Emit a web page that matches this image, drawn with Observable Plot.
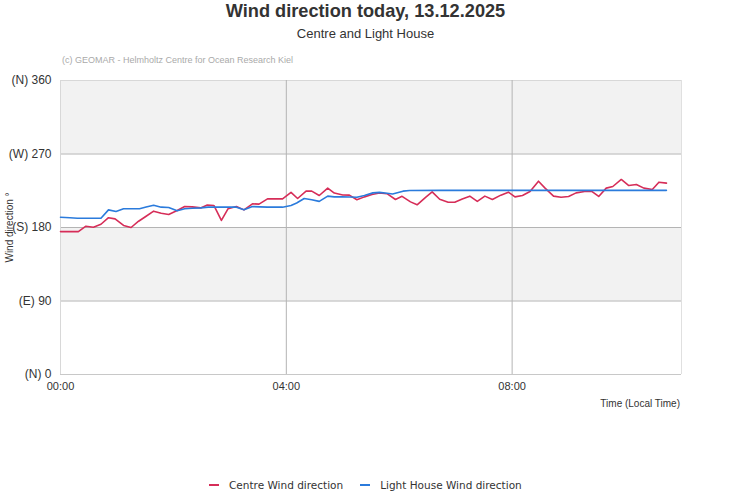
<!DOCTYPE html>
<html>
<head>
<meta charset="utf-8">
<script src="https://cdn.jsdelivr.net/npm/d3@7"></script>
<script src="https://cdn.jsdelivr.net/npm/@observablehq/plot@0.6"></script>
<style>
  html, body { margin: 0; padding: 0; background: #fff; }
  #wrap { position: relative; width: 731px; height: 500px; overflow: hidden; font-family: "Liberation Sans", Arial, sans-serif; }
  .abs { position: absolute; white-space: nowrap; }
  #title { left: 0; width: 731px; top: 1px; text-align: center; font-size: 18.2px; font-weight: bold; color: #333; }
  #subtitle { left: 0; width: 731px; top: 26px; text-align: center; font-size: 13px; color: #333; }
  #credit { left: 62px; top: 55px; font-size: 9px; color: #aaa; z-index: 2; }
  #xlabel { right: 51px; top: 398px; font-size: 10px; color: #333; z-index: 2; }
  #chart { position: absolute; left: 0; top: 50px; }
  #legend { left: 209px; top: 479px; font-family: "DejaVu Sans", sans-serif; font-size: 10.5px; color: #333; }
  .item { display: inline-block; margin-right: 17px; }
  .sw { display: inline-block; width: 10px; height: 2px; vertical-align: middle; margin-right: 10px; position: relative; top: -1px; }
</style>
</head>
<body>
<div id="wrap">
  <div id="title" class="abs">Wind direction today, 13.12.2025</div>
  <div id="subtitle" class="abs">Centre and Light House</div>
  <div id="credit" class="abs">(c) GEOMAR - Helmholtz Centre for Ocean Research Kiel</div>
  <div id="chart"></div>
  <div id="xlabel" class="abs">Time (Local Time)</div>
  <div id="legend" class="abs"></div>
</div>
<script>
// ---- data ----
const seriesNames = ["Centre Wind direction", "Light House Wind direction"];
const seriesColors = ["#d62d58", "#2b7bdc"];

const centreTimes = ["00:00","00:10","00:19","00:27","00:35","00:43","00:51","00:58","01:07","01:15","01:23","01:31","01:39","01:47","01:55","02:04","02:12","02:20","02:29","02:36","02:43","02:51","02:58","03:07","03:15","03:24","03:31","03:40","03:48","03:56","04:05","04:12","04:21","04:27","04:35","04:44","04:51","05:00","05:07","05:15","05:23","05:31","05:39","05:47","05:56","06:03","06:12","06:19","06:28","06:35","06:43","06:52","06:59","07:07","07:15","07:23","07:31","07:39","07:48","07:56","08:03","08:11","08:19","08:28","08:35","08:44","08:52","09:00","09:08","09:17","09:25","09:32","09:40","09:47","09:56","10:04","10:12","10:20","10:29","10:36","10:44"];
const centreValues = [175,175,175,181.6,180.4,184,192,190.6,182.5,180,187.7,193.8,200,197.5,196,200.8,205.7,205.3,204,207.5,207,188.6,202.9,205.7,201.6,209,208.6,215,215,215,223,215.5,224.5,224.5,219.2,228.2,222.2,219.8,219.6,214,217.5,220.5,222.2,221.4,214.3,218.2,211.4,207.8,217,223.6,214.6,211,211,215,218.4,212,218.4,214.3,219.6,223.3,217.5,219.2,224,236.7,228.2,218.4,217,218,222.4,224,224,218,228.2,230.2,238.8,231.4,232.7,228.2,226.5,235.5,234.3];

const lightTimes = ["00:00","00:10","00:18","00:27","00:35","00:43","00:51","00:59","01:07","01:15","01:24","01:31","01:39","01:47","01:55","02:04","02:12","02:20","02:29","02:37","02:44","02:51","02:59","03:07","03:15","03:24","03:32","03:40","03:48","03:56","04:05","04:11","04:19","04:27","04:35","04:44","04:51","04:59","05:07","05:15","05:23","05:32","05:39","05:47","05:53","06:04","06:11","06:44","07:20","08:00","08:40","09:20","10:00","10:44"];
const lightValues = [192.6,192,191.4,191.4,191.4,191.4,201.6,199.6,202.9,202.9,202.9,205,207.3,204.9,204.5,200.4,203,203.5,204,205,204.9,204.9,205,204.9,201.6,205.7,205.3,205,204.9,204.9,207,210,215.5,214,212,218.4,217.5,217.5,217.3,217,219.2,222.4,223,222,221,224.5,225.3,225.5,225.5,225.5,225.5,225.5,225.5,225.5];

const yTicks = [0, 90, 180, 270, 360];
const yTickLabels = ["(N) 0", "(E) 90", "(S) 180", "(W) 270", "(N) 360"];
const xTicks = ["00:00", "04:00", "08:00"];
const xDomain = ["00:00", "11:00"];
const shadedBands = [[90, 180], [270, 360]];

// ---- helpers ----
const toMin = s => { const [h, m] = s.split(":").map(Number); return h * 60 + m; };
const fmt = m => String(Math.floor(m / 60)).padStart(2, "0") + ":" + String(m % 60).padStart(2, "0");

const rows = [
  ...centreTimes.map((t, i) => ({ t: toMin(t), v: centreValues[i], s: seriesNames[0] })),
  ...lightTimes.map((t, i) => ({ t: toMin(t), v: lightValues[i], s: seriesNames[1] }))
];
const bands = shadedBands.map(([lo, hi]) => ({ lo, hi }));
const yLabelMap = new Map(yTicks.map((v, i) => [v, yTickLabels[i]]));
const xTickMin = xTicks.map(toMin);

const chart = Plot.plot({
  width: 731,
  height: 400,
  marginLeft: 60,
  marginRight: 50,
  marginTop: 30,
  marginBottom: 76,
  style: { fontFamily: "'Liberation Sans', Arial, sans-serif", background: "transparent", overflow: "visible" },
  x: { type: "linear", domain: xDomain.map(toMin) },
  y: { domain: [0, 360] },
  color: { domain: seriesNames, range: seriesColors },
  marks: [
    Plot.rect(bands, { y1: "lo", y2: "hi", fill: "#f2f2f2" }),
    Plot.ruleY([90, 180, 270], { stroke: "#b4b4b4", strokeWidth: 1 }),
    Plot.ruleY([360], { stroke: "#d8d8d8", strokeWidth: 1 }),
    Plot.ruleY([0], { stroke: "#c8c8c8", strokeWidth: 1 }),
    Plot.ruleX(xTickMin.slice(1), { stroke: "#b4b4b4", strokeWidth: 1 }),
    Plot.ruleX([toMin(xDomain[0])], { stroke: "#d8d8d8", strokeWidth: 1 }),
    Plot.ruleX([toMin(xDomain[1])], { stroke: "#e0e0e0", strokeWidth: 1 }),
    Plot.axisY({
      ticks: yTicks, tickSize: 0, tickPadding: 9, fontSize: 12, color: "#333",
      tickFormat: d => yLabelMap.get(d),
      label: "Wind direction °", labelAnchor: "center", labelOffset: 55, labelArrow: "none"
    }),
    Plot.axisX({
      ticks: xTickMin, tickSize: 0, tickPadding: 8, fontSize: 11, color: "#333",
      tickFormat: fmt, label: null
    }),
    Plot.line(rows, { x: "t", y: "v", z: "s", stroke: "s", strokeWidth: 1.6, curve: "linear" })
  ]
});

chart.querySelectorAll("g[aria-label='y-axis label'] text").forEach(t => t.setAttribute("font-size", "10"));
document.getElementById("chart").appendChild(chart);

// legend
const legend = document.getElementById("legend");
seriesNames.forEach((n, i) => {
  const it = document.createElement("span");
  it.className = "item";
  it.innerHTML = `<span class="sw" style="background:${seriesColors[i]}"></span>${n}`;
  legend.appendChild(it);
});
</script>
</body>
</html>
